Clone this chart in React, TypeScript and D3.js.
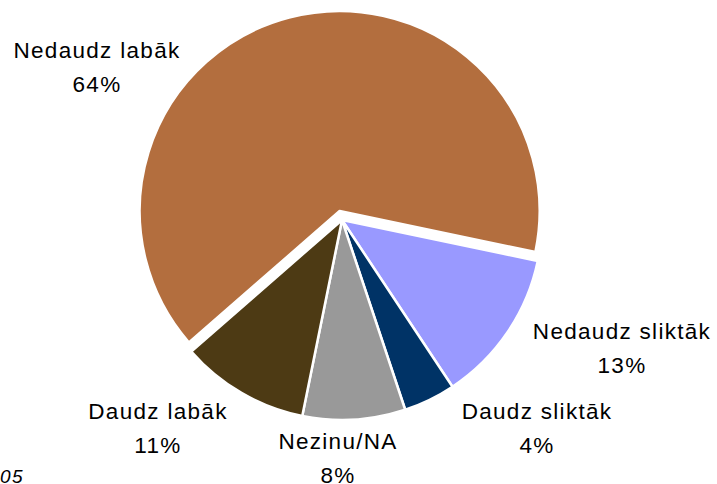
import React from "react";
import * as d3 from "d3";

const categories = ["Nedaudz labāk", "Nedaudz sliktāk", "Daudz sliktāk", "Nezinu/NA", "Daudz labāk"];
const values = [64.7, 12.4, 4.2, 8.3, 10.4];
const percentLabels = ["64%", "13%", "4%", "8%", "11%"];
const colors = ["#B36E3E", "#9999FF", "#003366", "#999999", "#4D3A14"];
const exploded = [true, false, false, false, false];
const footnote = "05";

// label anchor centres (layout only)
const labelAnchors: [number, number][] = [
  [97, 58],
  [622, 339],
  [537, 419],
  [338, 449],
  [158, 419],
];

const W = 717;
const H = 484;
const cx = 342;
const cy = 220;
const R = 200;
const explode = 9.3;
const startDeg = 228.9;

export default function App() {
  const pie = d3
    .pie<number>()
    .sort(null)
    .value((d) => d)
    .startAngle((startDeg * Math.PI) / 180)
    .endAngle((startDeg * Math.PI) / 180 + 2 * Math.PI);
  const arcs = pie(values);
  const arcGen = d3.arc<d3.PieArcDatum<number>>().innerRadius(0).outerRadius(R);

  const font = "'Liberation Sans', Arial, sans-serif";
  const lineGap = 33.5;

  return (
    <svg width={W} height={H} style={{ position: "absolute", left: 0, top: 0 }}>
      <rect width={W} height={H} fill="#fff" />
      {arcs.map((a, i) => {
        const mid = (a.startAngle + a.endAngle) / 2;
        const off = exploded[i] ? explode : 0;
        const dx = Math.sin(mid) * off;
        const dy = -Math.cos(mid) * off;
        return (
          <path
            key={i}
            d={arcGen(a) || ""}
            transform={`translate(${cx + dx},${cy + dy})`}
            fill={colors[i]}
            stroke="#fff"
            strokeWidth={2.5}
            strokeLinejoin="round"
          />
        );
      })}
      {categories.map((c, i) => (
        <text
          key={c}
          x={labelAnchors[i][0]}
          y={labelAnchors[i][1]}
          textAnchor="middle"
          fontFamily={font}
          fontSize={22.5}
          letterSpacing={1.3}
          fill="#000"
        >
          <tspan x={labelAnchors[i][0]}>{c}</tspan>
          <tspan x={labelAnchors[i][0]} dy={lineGap}>
            {percentLabels[i]}
          </tspan>
        </text>
      ))}
      <text x={0} y={483} fontFamily={font} fontSize={19} fontStyle="italic" letterSpacing={1.5} fill="#000">
        {footnote}
      </text>
    </svg>
  );
}
